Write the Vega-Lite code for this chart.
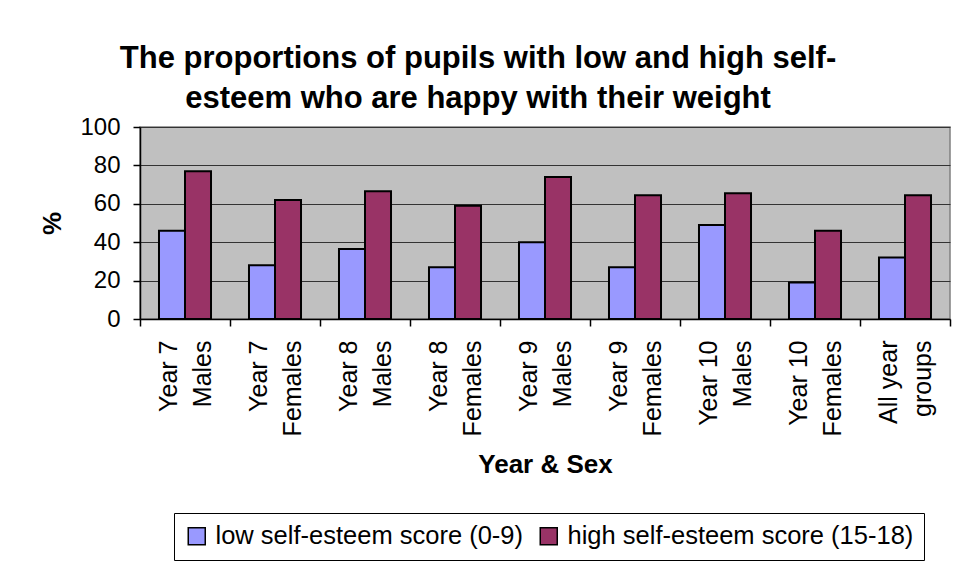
{
  "$schema": "https://vega.github.io/schema/vega-lite/v6.json",
  "width": 810,
  "height": 192,
  "autosize": {"type": "none"},
  "padding": {"left": 140, "top": 127, "right": 7, "bottom": 246},
  "background": "white",
  "title": {
    "text": ["The proportions of pupils with low and high self-", "esteem who are happy with their weight"],
    "font": "Liberation Sans",
    "fontSize": 31,
    "fontWeight": "bold",
    "color": "black",
    "lineHeight": 40,
    "anchor": "middle",
    "dx": -67,
    "offset": 0
  },
  "data": {
    "values": [
      {"group": "Year 7 Males", "series": "low self-esteem score (0-9)", "pct": 46},
      {"group": "Year 7 Males", "series": "high self-esteem score (15-18)", "pct": 77},
      {"group": "Year 7 Females", "series": "low self-esteem score (0-9)", "pct": 28},
      {"group": "Year 7 Females", "series": "high self-esteem score (15-18)", "pct": 62},
      {"group": "Year 8 Males", "series": "low self-esteem score (0-9)", "pct": 36.5},
      {"group": "Year 8 Males", "series": "high self-esteem score (15-18)", "pct": 66.5},
      {"group": "Year 8 Females", "series": "low self-esteem score (0-9)", "pct": 27},
      {"group": "Year 8 Females", "series": "high self-esteem score (15-18)", "pct": 59},
      {"group": "Year 9 Males", "series": "low self-esteem score (0-9)", "pct": 40},
      {"group": "Year 9 Males", "series": "high self-esteem score (15-18)", "pct": 74},
      {"group": "Year 9 Females", "series": "low self-esteem score (0-9)", "pct": 27},
      {"group": "Year 9 Females", "series": "high self-esteem score (15-18)", "pct": 64.5},
      {"group": "Year 10 Males", "series": "low self-esteem score (0-9)", "pct": 49},
      {"group": "Year 10 Males", "series": "high self-esteem score (15-18)", "pct": 65.5},
      {"group": "Year 10 Females", "series": "low self-esteem score (0-9)", "pct": 19},
      {"group": "Year 10 Females", "series": "high self-esteem score (15-18)", "pct": 46},
      {"group": "All year groups", "series": "low self-esteem score (0-9)", "pct": 32},
      {"group": "All year groups", "series": "high self-esteem score (15-18)", "pct": 64.5}
    ]
  },
  "mark": {"type": "bar", "stroke": "black", "strokeWidth": 2},
  "encoding": {
    "x": {
      "field": "group",
      "type": "nominal",
      "sort": null,
      "scale": {"paddingInner": 0, "paddingOuter": 0},
      "axis": {
        "title": "Year & Sex",
        "titleFont": "Liberation Sans",
        "titleFontSize": 26,
        "titleFontWeight": "bold",
        "titleColor": "black",
        "titlePadding": 16,
        "labelAngle": -90,
        "labelFont": "Liberation Sans",
        "labelFontSize": 25,
        "labelColor": "black",
        "labelLineHeight": 34,
        "labelPadding": 14,
        "labelOffset": -17,
        "labelExpr": "[slice(datum.label, 0, lastindexof(datum.label, ' ')), slice(datum.label, lastindexof(datum.label, ' ') + 1)]",
        "tickBand": "extent",
        "tickSize": 7,
        "tickColor": "black",
        "tickWidth": 1.5,
        "domainColor": "black",
        "domainWidth": 1.5,
        "grid": false
      }
    },
    "xOffset": {
      "field": "series",
      "type": "nominal",
      "sort": ["low self-esteem score (0-9)", "high self-esteem score (15-18)"],
      "scale": {"paddingInner": 0, "paddingOuter": 0.73}
    },
    "y": {
      "field": "pct",
      "type": "quantitative",
      "scale": {"domain": [0, 100], "nice": false},
      "axis": {
        "title": "%",
        "titleFont": "Liberation Sans",
        "titleFontSize": 26,
        "titleFontWeight": "bold",
        "titleColor": "black",
        "titlePadding": 14,
        "values": [0, 20, 40, 60, 80, 100],
        "labelFont": "Liberation Sans",
        "labelFontSize": 24,
        "labelColor": "black",
        "labelPadding": 13,
        "tickSize": 7,
        "tickColor": "black",
        "tickWidth": 1.5,
        "domainColor": "black",
        "domainWidth": 1.5,
        "grid": true,
        "gridColor": "#333333",
        "gridWidth": 1
      }
    },
    "color": {
      "field": "series",
      "type": "nominal",
      "sort": ["low self-esteem score (0-9)", "high self-esteem score (15-18)"],
      "scale": {
        "domain": ["low self-esteem score (0-9)", "high self-esteem score (15-18)"],
        "range": ["#9999FF", "#993366"]
      },
      "legend": {
        "title": null,
        "orient": "none",
        "legendX": 34,
        "legendY": 386,
        "direction": "horizontal",
        "columns": 2,
        "symbolType": "square",
        "symbolSize": 289,
        "symbolStrokeColor": "black",
        "symbolStrokeWidth": 1.5,
        "symbolOpacity": 1,
        "labelFont": "Liberation Sans",
        "labelFontSize": 25.5,
        "labelColor": "black",
        "labelOffset": 6,
        "labelLimit": 500,
        "columnPadding": 12,
        "padding": 10,
        "strokeColor": "black",
        "fillColor": "white"
      }
    }
  },
  "config": {
    "view": {"fill": "#C0C0C0", "stroke": "#808080", "strokeWidth": 1.5}
  }
}
